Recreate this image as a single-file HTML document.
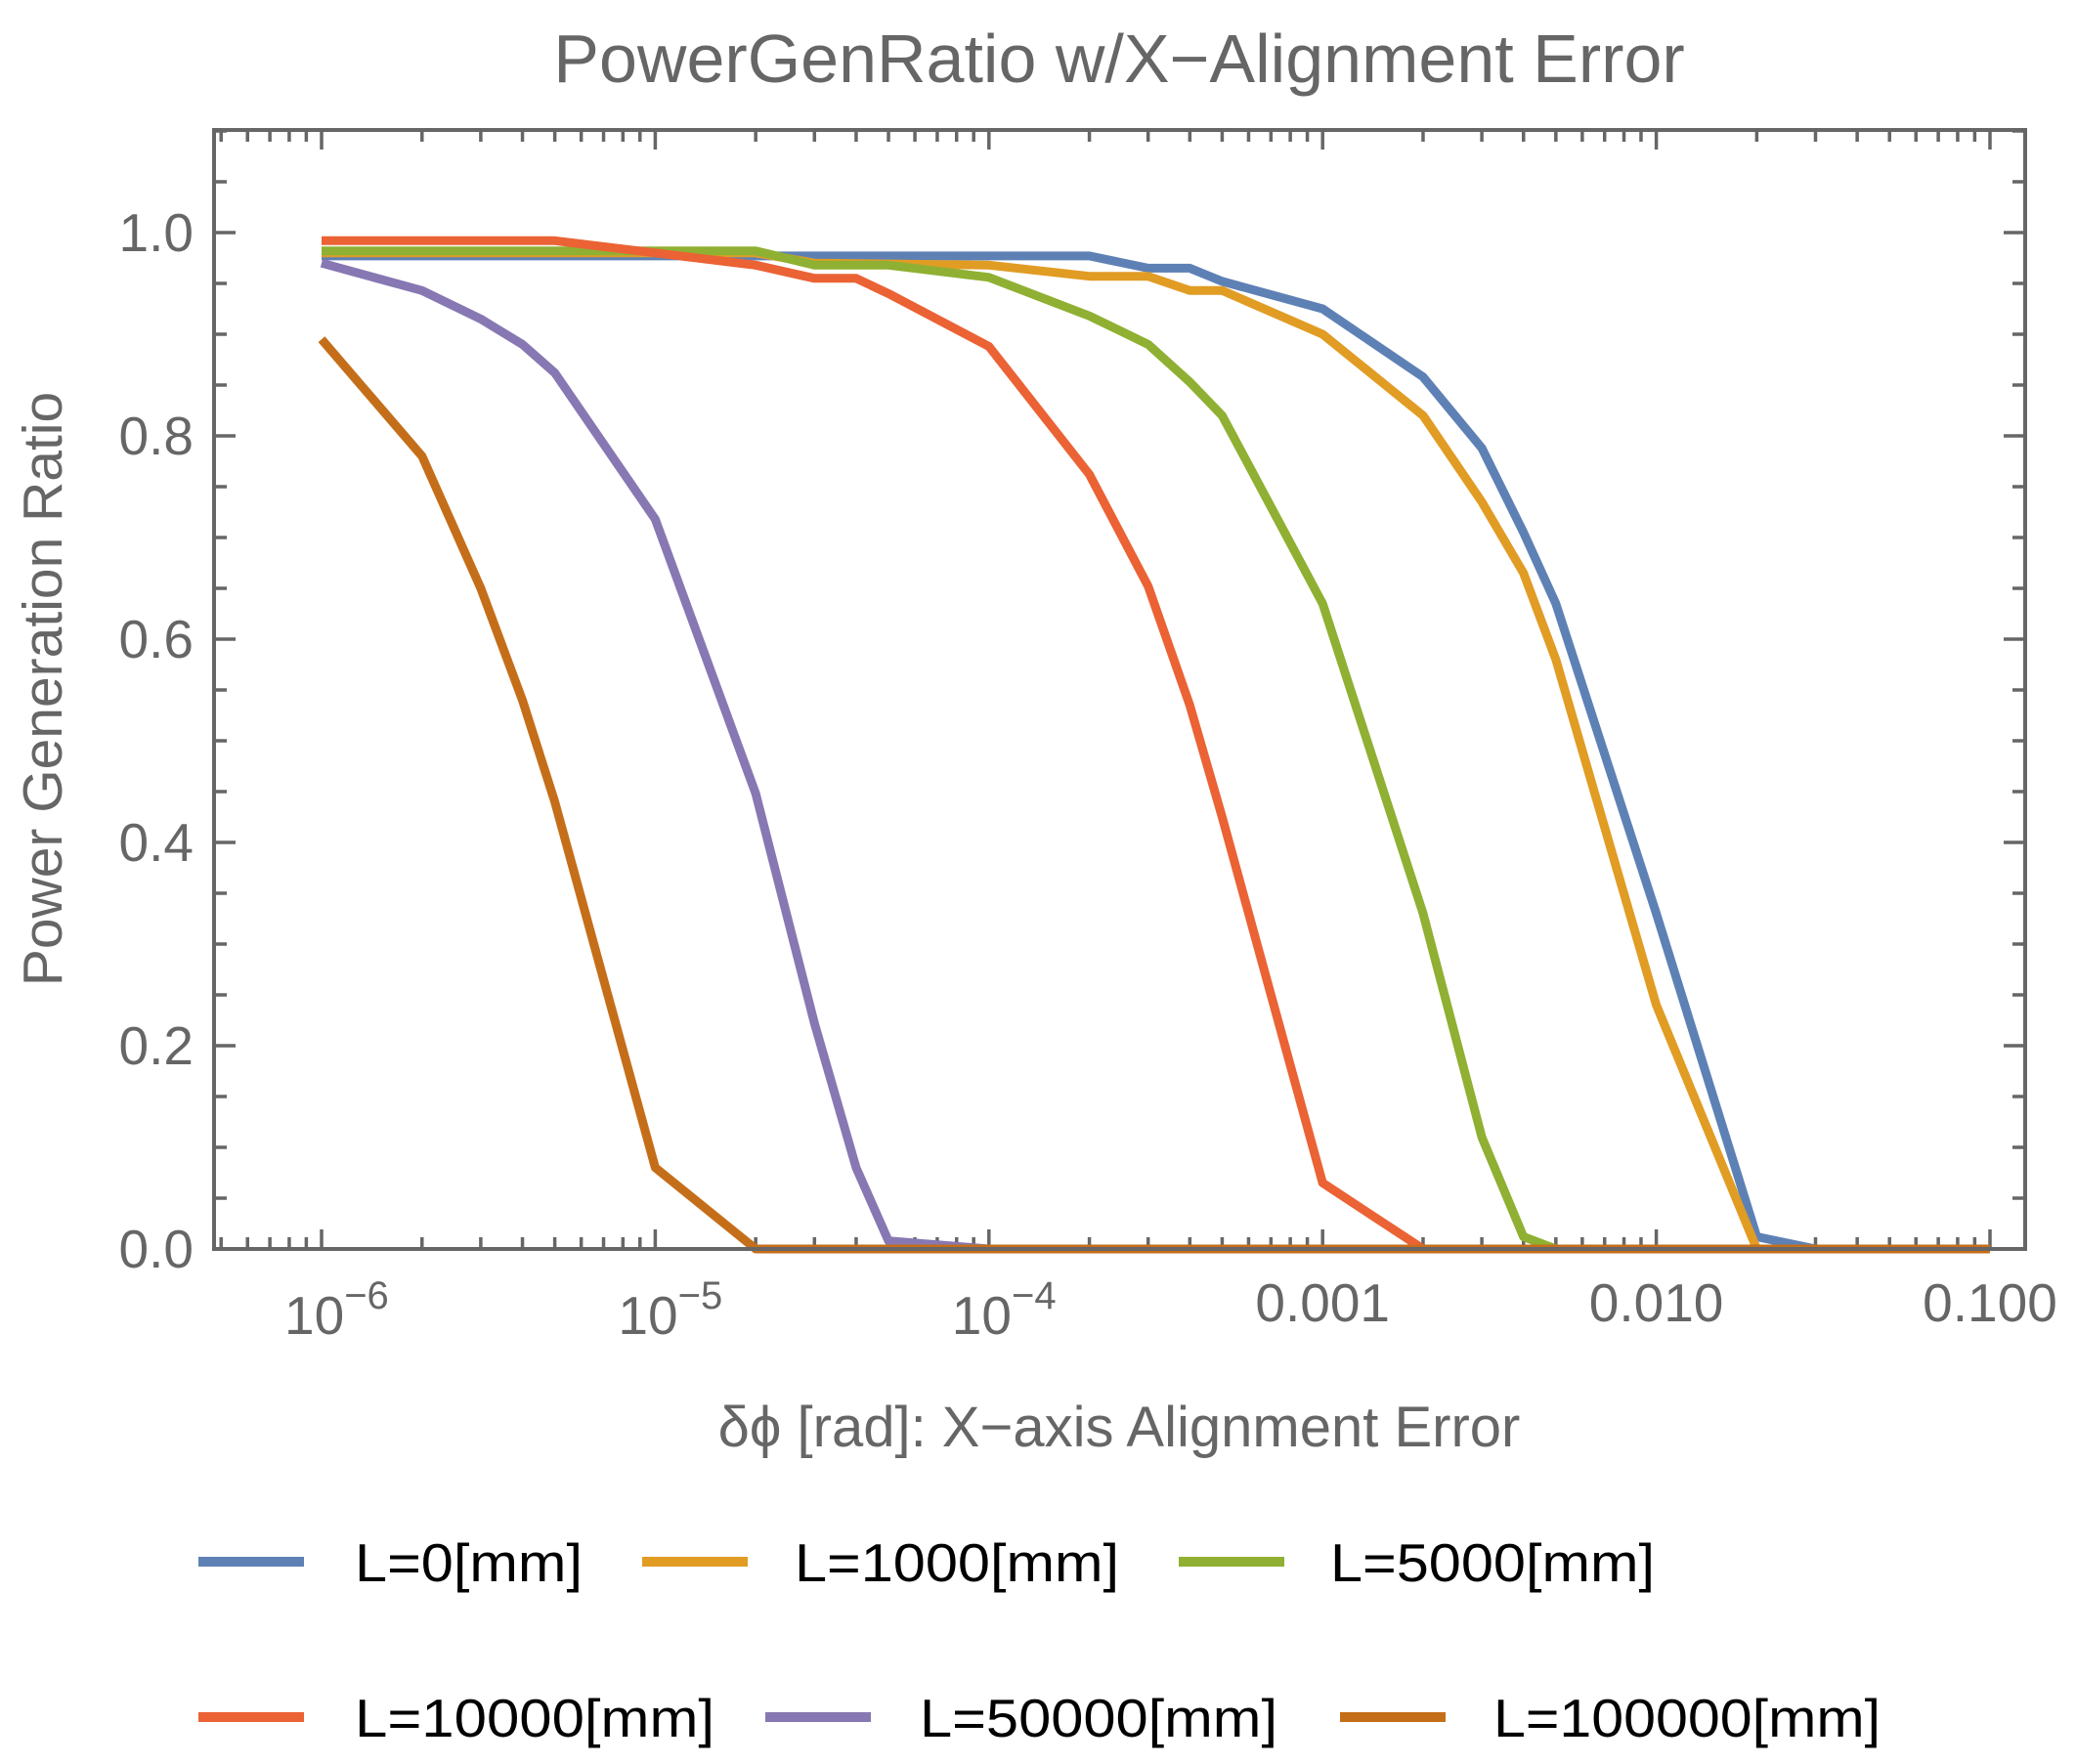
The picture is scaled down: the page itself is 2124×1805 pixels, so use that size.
<!DOCTYPE html>
<html><head><meta charset="utf-8"><style>
html,body{margin:0;padding:0;background:#fff}
svg{display:block}
text{font-family:"Liberation Sans",Arial,sans-serif}
</style></head><body>
<svg id="s" width="2124" height="1805" viewBox="0 0 2124 1805" xmlns="http://www.w3.org/2000/svg">
<rect width="2124" height="1805" fill="#fff"/>
<text x="1145" y="84" font-size="70" fill="#666" text-anchor="middle">PowerGenRatio w/X−Alignment Error</text>
<text transform="translate(63,705) rotate(-90)" font-size="57" fill="#666" text-anchor="middle">Power Generation Ratio</text>
<text x="1145" y="1480" font-size="58" fill="#666" text-anchor="middle">δϕ [rad]: X−axis Alignment Error</text>
<g id="ticks" stroke="#666" stroke-width="3.5"></g>
<g id="lines" fill="none" stroke-width="9" stroke-linejoin="round"></g>
<rect x="219" y="133" width="1853" height="1145" fill="none" stroke="#666" stroke-width="4"/>
<g id="labels" font-size="55" fill="#666"></g>
<g id="legend" font-size="55" fill="#000"></g>
</svg>
<script>
var NS="http://www.w3.org/2000/svg";
function el(p,t,a,txt){var e=document.createElementNS(NS,t);for(var k in a)e.setAttribute(k,a[k]);if(txt!=null)e.textContent=txt;p.appendChild(e);return e;}
function X(v){return 329+(Math.log10(v)+6)*341.4;}
function Y(v){return 1278-v*1040;}
var L=219,R=2072,T=133,B=1278;
var tk=document.getElementById('ticks'),lb=document.getElementById('labels');
for(var i=0;i<=22;i++){var v=i*0.05,y=Y(v);if(y<T)break;var maj=(i%4==0);var len=maj?22:13;
el(tk,'line',{x1:L,y1:y,x2:L+len,y2:y});el(tk,'line',{x1:R,y1:y,x2:R-len,y2:y});
if(maj){el(lb,'text',{x:198,y:y+19,'text-anchor':'end'},v.toFixed(1));}}
for(var e=-7;e<=0;e++){for(var m=1;m<=9;m++){var v=m*Math.pow(10,e),x=X(v);if(x<L+2||x>R-2)continue;var len=(m==1)?20:12;
el(tk,'line',{x1:x,y1:B,x2:x,y2:B-len});el(tk,'line',{x1:x,y1:T,x2:x,y2:T+len});}}
var xl=[[-6,null],[-5,null],[-4,null],[-3,'0.001'],[-2,'0.010'],[-1,'0.100']];
xl.forEach(function(a){var x=329+(a[0]+6)*341.4;
if(a[1]){el(lb,'text',{x:x,y:1352,'text-anchor':'middle'},a[1]);}
else{var t=el(lb,'text',{x:x-38,y:1365,'text-anchor':'start'});
el(t,'tspan',{},'10');el(t,'tspan',{'font-size':'40',dy:'-26'},'−'+(-a[0]));}});
var S=[
['#5E81B5',[[1e-6,.977],[2e-4,.977],[3e-4,.965],[4e-4,.965],[5e-4,.952],[1e-3,.925],[2e-3,.858],[3e-3,.788],[4e-3,.705],[5e-3,.635],[1e-2,.33],[2e-2,.012],[3e-2,0],[0.1,0]]],
['#E19C24',[[1e-6,.98],[2e-5,.98],[3e-5,.97],[1e-4,.968],[2e-4,.957],[3e-4,.957],[4e-4,.943],[5e-4,.943],[1e-3,.9],[2e-3,.82],[3e-3,.735],[4e-3,.665],[5e-3,.58],[1e-2,.24],[2e-2,0],[0.1,0]]],
['#8FB032',[[1e-6,.982],[2e-5,.982],[3e-5,.968],[5e-5,.968],[1e-4,.956],[2e-4,.918],[3e-4,.89],[4e-4,.853],[5e-4,.82],[1e-3,.635],[2e-3,.33],[3e-3,.11],[4e-3,.012],[5e-3,0],[0.1,0]]],
['#EB6235',[[1e-6,.992],[5e-6,.992],[1e-5,.98],[2e-5,.968],[3e-5,.955],[4e-5,.955],[5e-5,.94],[1e-4,.888],[2e-4,.762],[3e-4,.652],[4e-4,.535],[5e-4,.425],[1e-3,.065],[2e-3,0],[0.1,0]]],
['#8778B3',[[1e-6,.97],[2e-6,.943],[3e-6,.915],[4e-6,.89],[5e-6,.862],[1e-5,.718],[2e-5,.448],[3e-5,.222],[4e-5,.08],[5e-5,.008],[1e-4,0],[0.1,0]]],
['#C56E1A',[[1e-6,.895],[2e-6,.78],[3e-6,.65],[4e-6,.54],[5e-6,.44],[1e-5,.08],[2e-5,0],[0.1,0]]]];
var ln=document.getElementById('lines');
S.forEach(function(s){el(ln,'polyline',{stroke:s[0],points:s[1].map(function(p){return X(p[0]).toFixed(1)+','+Y(p[1]).toFixed(1)}).join(' ')});});
var lg=document.getElementById('legend');
var items=[[0,203,363,233,'L=0[mm]',1598],[1,657,813,332,'L=1000[mm]',1598],[2,1206,1361,332,'L=5000[mm]',1598],
[3,203,363,368,'L=10000[mm]',1757],[4,783,941,366,'L=50000[mm]',1757],[5,1371,1528,396,'L=100000[mm]',1757]];
items.forEach(function(it){el(lg,'line',{x1:it[1],y1:it[5],x2:it[1]+108,y2:it[5],stroke:S[it[0]][0],'stroke-width':10});
el(lg,'text',{x:it[2],y:it[5]+20,textLength:it[3],lengthAdjust:'spacingAndGlyphs'},it[4]);});
</script>
</body></html>
